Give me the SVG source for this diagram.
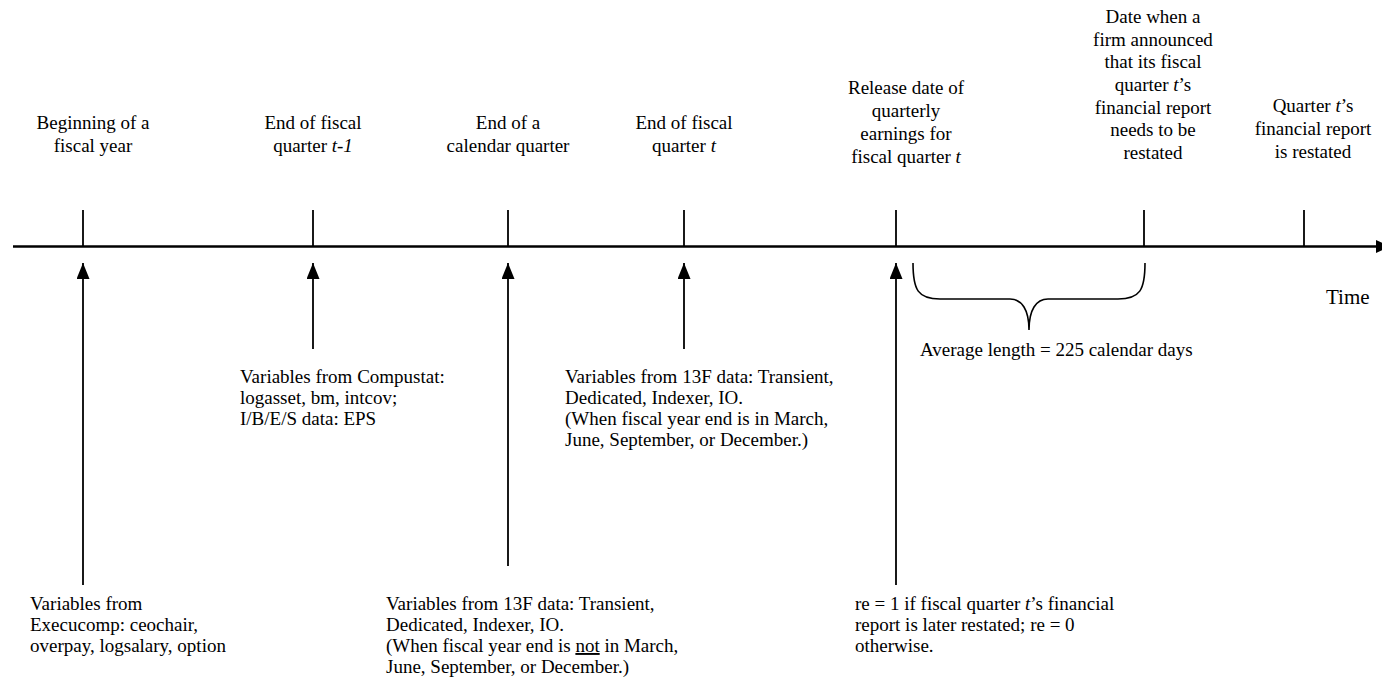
<svg xmlns="http://www.w3.org/2000/svg" width="1382" height="684" viewBox="0 0 1382 684">
<style>
text{font-family:"Liberation Serif","Times New Roman",serif;font-size:19px;fill:#000}
.c{text-anchor:middle}
.i{font-style:italic}
.tick{stroke:#000;stroke-width:1.8}
.axis{stroke:#000;stroke-width:2.4}
.arr{stroke:#000;stroke-width:1.8;fill:none;marker-end:url(#ah)}
.brace{fill:none;stroke:#000;stroke-width:1.6}
</style>
<defs>
<marker id="ah" markerUnits="userSpaceOnUse" markerWidth="16" markerHeight="14" refX="16" refY="6.5" orient="auto"><path d="M0,0 L16,6.5 L0,13 z" fill="#000"/></marker>
</defs>
<rect width="1382" height="684" fill="#fff"/>

<g id="timeline">
<line class="axis" x1="13" y1="246.5" x2="1378" y2="246.5"/>
<polygon points="1376,240 1390,246.5 1376,253" fill="#000"/>
<line class="tick" x1="83" y1="210" x2="83" y2="246"/>
<line class="tick" x1="313" y1="210" x2="313" y2="246"/>
<line class="tick" x1="508" y1="210" x2="508" y2="246"/>
<line class="tick" x1="684" y1="210" x2="684" y2="246"/>
<line class="tick" x1="896" y1="210" x2="896" y2="246"/>
<line class="tick" x1="1144" y1="210" x2="1144" y2="246"/>
<line class="tick" x1="1304" y1="210" x2="1304" y2="246"/>
<text x="1326" y="304" style="font-size:21px">Time</text>
</g>

<g id="label-beginning"><text class="c" x="93" y="129">Beginning of a</text><text class="c" x="93" y="152">fiscal year</text></g>
<g id="label-end-t-1"><text class="c" x="313" y="129">End of fiscal</text><text class="c" x="313" y="152">quarter <tspan class="i">t-1</tspan></text></g>
<g id="label-calendar"><text class="c" x="508" y="129">End of a</text><text class="c" x="508" y="152">calendar quarter</text></g>
<g id="label-end-t"><text class="c" x="684" y="129">End of fiscal</text><text class="c" x="684" y="152">quarter <tspan class="i">t</tspan></text></g>
<g id="label-release"><text class="c" x="906" y="94">Release date of</text><text class="c" x="906" y="117">quarterly</text><text class="c" x="906" y="140">earnings for</text><text class="c" x="906" y="163">fiscal quarter <tspan class="i">t</tspan></text></g>
<g id="label-announce"><text class="c" x="1153" y="23">Date when a</text><text class="c" x="1153" y="46">firm announced</text><text class="c" x="1153" y="68">that its fiscal</text><text class="c" x="1153" y="91">quarter <tspan class="i">t</tspan>’s</text><text class="c" x="1153" y="114">financial report</text><text class="c" x="1153" y="136">needs to be</text><text class="c" x="1153" y="159">restated</text></g>
<g id="label-restated"><text class="c" x="1313" y="112">Quarter <tspan class="i">t</tspan>’s</text><text class="c" x="1313" y="135">financial report</text><text class="c" x="1313" y="158">is restated</text></g>

<g id="connectors">
<line class="arr" x1="83" y1="585" x2="83" y2="263"/>
<line class="arr" x1="313" y1="349" x2="313" y2="263"/>
<line class="arr" x1="508" y1="566" x2="508" y2="263"/>
<line class="arr" x1="684" y1="349" x2="684" y2="263"/>
<line class="arr" x1="896" y1="585" x2="896" y2="263"/>
</g>

<g id="brace">
<path class="brace" d="M913,263 C913,290 918,299 940,299 L1010,299 C1022,299 1029,310 1029,330 C1029,310 1036,299 1048,299 L1118,299 C1140,299 1145,290 1145,263"/>
<text x="920" y="356">Average length = 225 calendar days</text>
</g>

<g id="note-execucomp"><text x="30" y="610">Variables from</text><text x="30" y="631">Execucomp: ceochair,</text><text x="30" y="652">overpay, logsalary, option</text></g>
<g id="note-compustat"><text x="240" y="383">Variables from Compustat:</text><text x="240" y="404">logasset, bm, intcov;</text><text x="240" y="425">I/B/E/S data: EPS</text></g>
<g id="note-13f-not"><text x="386" y="610">Variables from 13F data: Transient,</text><text x="386" y="631">Dedicated, Indexer, IO.</text><text x="386" y="652">(When fiscal year end is <tspan text-decoration="underline">not</tspan> in March,</text><text x="386" y="673">June, September, or December.)</text></g>
<g id="note-13f-in"><text x="565" y="383">Variables from 13F data: Transient,</text><text x="565" y="404">Dedicated, Indexer, IO.</text><text x="565" y="425">(When fiscal year end is in March,</text><text x="565" y="446">June, September, or December.)</text></g>
<g id="note-re"><text x="855" y="610">re = 1 if fiscal quarter <tspan class="i">t</tspan>’s financial</text><text x="855" y="631">report is later restated; re = 0</text><text x="855" y="652">otherwise.</text></g>
</svg>
